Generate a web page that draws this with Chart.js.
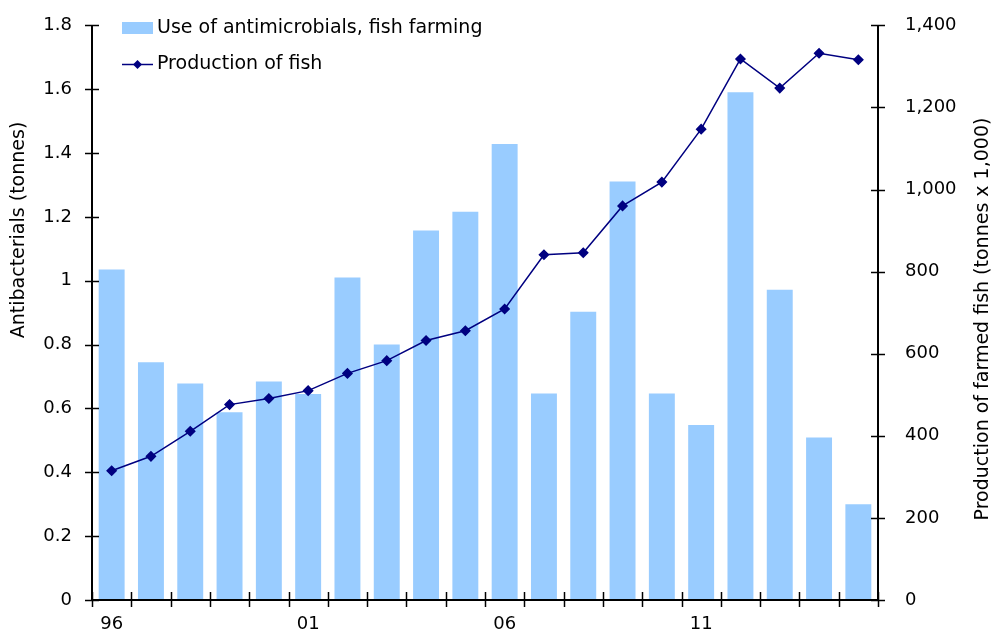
<!DOCTYPE html>
<html><head><meta charset="utf-8">
<script src="https://cdn.jsdelivr.net/npm/chart.js@4/dist/chart.umd.min.js"></script>
<style>html,body{margin:0;padding:0;background:#fff}#wrap{width:992px;height:635px}</style>
</head><body><div id="wrap"><canvas id="c" width="992" height="635"></canvas></div>
<script>
const years = ['96','97','98','99','00','01','02','03','04','05','06','07','08','09','10','11','12','13','14','15'];
const antimicrobials = [1.035,0.745,0.678,0.588,0.684,0.645,1.01,0.8,1.157,1.216,1.428,0.647,0.903,1.311,0.647,0.548,1.59,0.972,0.509,0.3];
const fishProduction = [315,350,411,476,491,510,552,583,632,656,709,841,846,960,1018,1147,1318,1247,1332,1316];
const shownLabels = ['96','01','06','11'];
const leftTicks = [0,0.2,0.4,0.6,0.8,1,1.2,1.4,1.6,1.8];
const rightTicks = [0,200,400,600,800,1000,1200,1400];
const leftTitle = 'Antibacterials (tonnes)';
const rightTitle = 'Production of farmed fish (tonnes x 1,000)';
const FONT = "'DejaVu Sans',sans-serif";

const tickPlugin = {
  id:'tickmarks',
  afterDraw(chart){
    const ctx = chart.ctx, x = chart.scales.x, yl = chart.scales.y, yr = chart.scales.y1;
    ctx.save();
    ctx.strokeStyle = '#000'; ctx.lineWidth = 1.5;
    const left = x.left, right = x.right, bottom = yl.bottom;
    leftTicks.forEach(v=>{const p=Math.round(yl.getPixelForValue(v))+0.5;ctx.beginPath();ctx.moveTo(left-7,p);ctx.lineTo(left+7,p);ctx.stroke();});
    rightTicks.forEach(v=>{const p=Math.round(yr.getPixelForValue(v))+0.5;ctx.beginPath();ctx.moveTo(right-7,p);ctx.lineTo(right+7,p);ctx.stroke();});
    const n = years.length, w = (right-left)/n;
    for(let i=0;i<=n;i++){const p=Math.round(left+i*w)+0.5;ctx.beginPath();ctx.moveTo(p,bottom-8);ctx.lineTo(p,bottom+7);ctx.stroke();}
    ctx.lineWidth = 2;
    ctx.beginPath();ctx.moveTo(left,yl.top);ctx.lineTo(left,bottom);ctx.lineTo(right,bottom);ctx.lineTo(right,yl.top);ctx.stroke();
    // legend
    const ds = chart.data.datasets;
    ctx.font = '19px '+FONT; ctx.textBaseline='middle'; ctx.textAlign='left';
    ctx.fillStyle = ds[0].backgroundColor; ctx.fillRect(122,22,31,12);
    ctx.fillStyle='#000'; ctx.fillText(ds[0].label,157,28);
    ctx.strokeStyle = ds[1].borderColor; ctx.lineWidth=1.5;
    ctx.beginPath();ctx.moveTo(122,64.5);ctx.lineTo(153,64.5);ctx.stroke();
    ctx.fillStyle = ds[1].borderColor; ctx.beginPath();ctx.moveTo(137.5,60);ctx.lineTo(142,64.5);ctx.lineTo(137.5,69);ctx.lineTo(133,64.5);ctx.closePath();ctx.fill();
    ctx.fillStyle='#000'; ctx.fillText(ds[1].label,157,64);
    // axis titles
    ctx.textAlign='center';
    ctx.save(); ctx.translate(19,230); ctx.rotate(-Math.PI/2); ctx.fillText(leftTitle,0,0); ctx.restore();
    ctx.save(); ctx.translate(983,319); ctx.rotate(-Math.PI/2); ctx.fillText(rightTitle,0,0); ctx.restore();
    ctx.restore();
  }
};

new Chart(document.getElementById('c'),{
  data:{labels:years,datasets:[
    {type:'bar',label:'Use of antimicrobials, fish farming',data:antimicrobials,backgroundColor:'#99CCFF',yAxisID:'y',categoryPercentage:1,barPercentage:0.66,order:2},
    {type:'line',label:'Production of fish',data:fishProduction,borderColor:'#000080',backgroundColor:'#000080',borderWidth:1.5,pointStyle:'rectRot',pointRadius:4.5,pointHoverRadius:4.5,yAxisID:'y1',order:1,tension:0}
  ]},
  options:{
    responsive:false,animation:false,
    layout:{padding:{top:0,left:0,right:0,bottom:0}},
    plugins:{legend:{display:false},tooltip:{enabled:false}},
    scales:{
      x:{type:'category',offset:true,grid:{display:false},border:{display:false},
        ticks:{autoSkip:false,maxRotation:0,color:'#000',font:{family:FONT,size:18},padding:6,
          callback:function(v,i){const l=years[i];return shownLabels.includes(l)?l:'';}},
        afterFit(s){s.height=35;}},
      y:{position:'left',min:0,max:1.8,grid:{display:false},border:{display:false},
        ticks:{stepSize:0.2,color:'#000',font:{family:FONT,size:18,lineHeight:0.7},padding:12,callback:v=>Math.round(v*10)/10+''},
        afterFit(s){s.width=92;}},
      y1:{position:'right',min:0,max:1400,grid:{display:false},border:{display:false},
        ticks:{stepSize:200,color:'#000',font:{family:FONT,size:18,lineHeight:0.7},padding:19,callback:v=>v.toLocaleString('en-US')},
        afterFit(s){s.width=114;}}
    }
  },
  plugins:[tickPlugin]
});
</script></body></html>
